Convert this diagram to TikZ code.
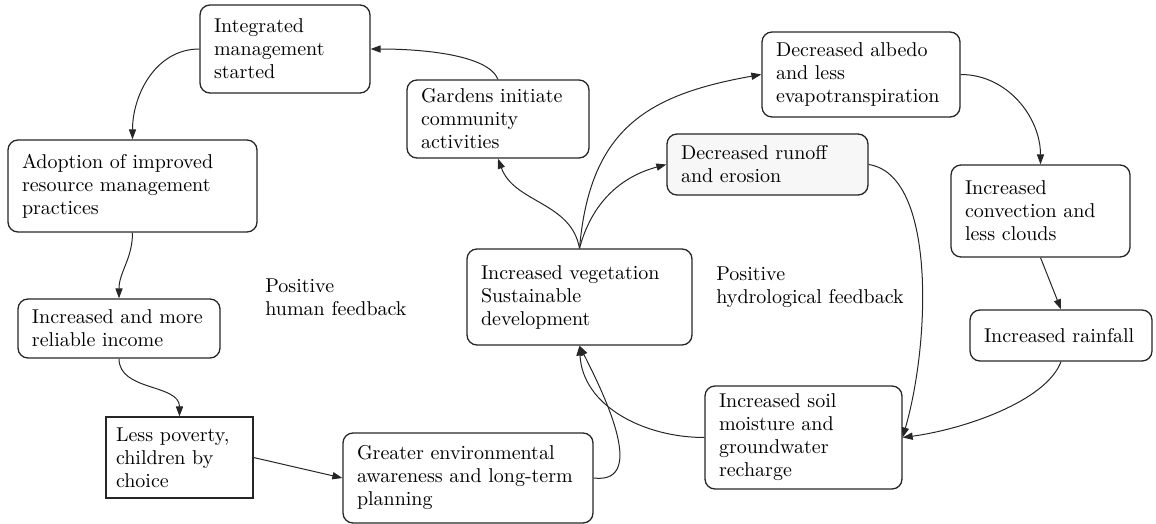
\documentclass[tikz,border=0pt]{standalone}
\usepackage{tikz}
\usetikzlibrary{arrows.meta, positioning}
\tikzset{
  box/.style={rectangle, rounded corners=5pt, draw=black!85, line width=0.65pt,
              align=left, inner xsep=7pt, inner ysep=3pt,
              font=\fontsize{10}{11.5}\selectfont},
  boxsharp/.style={box, rounded corners=0pt, inner xsep=5pt, line width=0.55pt},
  boxshade/.style={box, fill=black!3},
  note/.style={align=left, inner sep=0pt, anchor=north west,
               font=\fontsize{10}{11.5}\selectfont},
  arrow/.style={-{Triangle[length=5pt,width=3.6pt]}, line width=0.5pt, draw=black!85},
}

\begin{document}
\begin{tikzpicture}[x=0.5pt, y=0.5pt]
  \useasboundingbox (0,0) rectangle (1156,-524);

  % human loop
  \node[box, text width=71pt, minimum height=44pt] (integ) at (285,-49)
    {Integrated\\management\\started};
  \node[box, text width=110.5pt, minimum height=46pt] (adopt) at (132.5,-186)
    {Adoption of improved\\resource management\\practices};
  \node[box, text width=87pt, minimum height=29.5pt] (income) at (119,-328.5)
    {Increased and more\\reliable income};
  \node[boxsharp, text width=63.5pt, minimum height=40.5pt] (poverty) at (179.5,-457.5)
    {Less poverty,\\children by\\choice};
  \node[box, text width=111pt, minimum height=45pt] (aware) at (468,-478)
    {Greater environmental\\awareness and long-term\\planning};
  \node[box, text width=98.5pt, minimum height=48pt] (veg) at (579.5,-297)
    {Increased vegetation\\Sustainable\\development};
  \node[box, text width=77pt, minimum height=39pt] (gardens) at (498,-119)
    {Gardens initiate\\community\\activities};

  % hydrological loop
  \node[boxshade, text width=86.5pt, minimum height=30.5pt] (runoff) at (767.5,-164.5)
    {Decreased runoff\\and erosion};
  \node[box, text width=85pt, minimum height=42.5pt] (albedo) at (861,-74.5)
    {Decreased albedo\\and less\\evapotranspiration};
  \node[box, text width=75.5pt, minimum height=46pt] (convec) at (1040.5,-211)
    {Increased\\convection and\\less clouds};
  \node[box, text width=77pt, minimum height=25.5pt] (rain) at (1061,-335.5)
    {Increased rainfall};
  \node[box, text width=84.5pt, minimum height=51.5pt] (soil) at (803.5,-437.5)
    {Increased soil\\moisture and\\groundwater\\recharge};

  \node[note] (humanfb) at (265,-278) {Positive\\human feedback};
  \node[note] (hydrofb) at (716,-266) {Positive\\hydrological feedback};

  \draw[arrow] (gardens.north) .. controls +(-10,25) and +(50,0) .. (integ.east);
  \draw[arrow] (integ.west) to[out=180,in=90] (adopt.north);
  \draw[arrow] (adopt.south) to[out=-90,in=90] (income.north);
  \draw[arrow] (income.south) to[out=-90,in=90] (poverty.north);
  \draw[arrow] (poverty.east) -- (aware.west);
  \draw[arrow] (aware.east) .. controls +(57,-7) and +(20,-40) .. (veg.south);
  \draw[arrow] (soil.west) to[out=180,in=-87] (veg.south);
  \draw[arrow] (veg.north) to[out=100,in=-70] (gardens.south);
  \draw[arrow] (veg.north) to[out=85,in=190,looseness=1.2] (albedo.west);
  \draw[arrow] (veg.north) to[out=75,in=195] (runoff.west);
  \draw[arrow] (albedo.east) to[out=0,in=90] (convec.north);
  \draw[arrow] (convec.south) -- (rain.north);
  \draw[arrow] (rain.south) .. controls +(-15,-40) and +(60,8) .. (soil.east);
  \draw[arrow] (runoff.east) .. controls +(67,-10) and +(28,97) .. (soil.east);
\end{tikzpicture}
\end{document}
